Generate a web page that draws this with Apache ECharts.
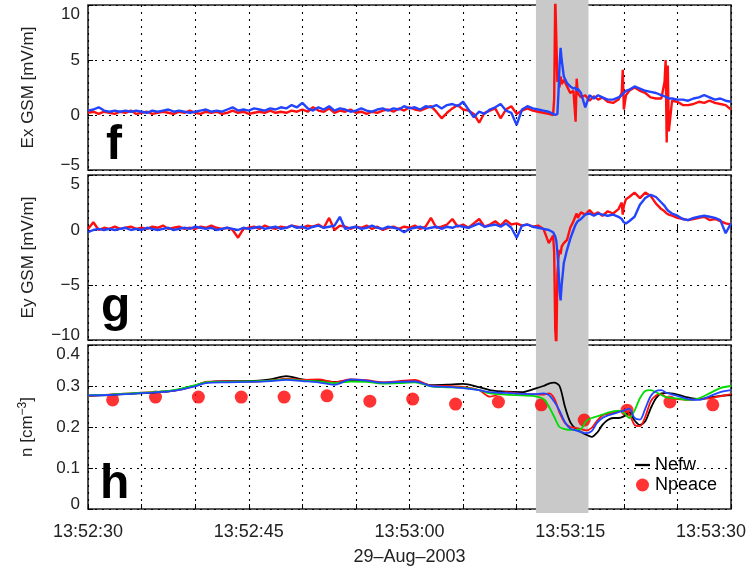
<!DOCTYPE html>
<html>
<head>
<meta charset="utf-8">
<script src="https://cdn.jsdelivr.net/npm/echarts@6/dist/echarts.min.js"></script>
<style>html,body{margin:0;padding:0;background:#fff;}#c{width:751px;height:571px;}</style>
</head>
<body>
<div id="c"></div>
<script>
// time in seconds after 13:52:30 (29-Aug-2003)
const tE = [0,0.5,1,1.5,2,2.5,3,3.5,4,4.5,5,5.5,6,6.5,7,7.5,8,8.5,9,9.5,10,10.5,11,11.5,12,12.5,13,13.5,14,14.5,15,15.5,16,16.5,17,17.5,18,18.5,19,19.5,20,20.5,21,21.5,22,22.5,23,23.5,24,24.5,25,25.5,26,26.5,27,27.5,28,28.5,29,29.5,30,30.5,31,31.5,32,32.5,33,33.5,34,34.5,35,35.5,36,36.5,37,37.5,38,38.5,39,39.5,40,40.5,41,41.5,42,
  42.5,43,43.4,43.5,43.6,43.7,43.8,43.9,44,44.1,44.2,44.4,44.7,45,45.3,45.5,45.6,45.7,46,46.4,46.8,47.2,47.6,48,48.5,49,49.5,49.8,49.9,50,50.2,50.5,51,51.5,52,52.5,53,53.5,53.8,53.9,54,54.1,54.2,54.5,55,55.5,56,56.5,57,57.5,58,58.5,59,59.5,60];

const exRed = [0.2,0.3,0.1,0.3,0.2,0.1,0.3,0.2,0.4,0.1, 0.2,0.3,0.1,0.2,0.3,0.2,0.1,0.3,0.2,0.4, 0.2,0.1,0.3,0.2,0.3,0.1,0.2,0.4,0.2,0.3, 0.1,0.2,0.3,0.2,0.4,0.2,0.3,0.2,0.4,0.3, 0.5,0.3,0.7,0.4,0.3,0.6,0.2,0.4,0.3,0.5, 0.2,0.3,0.1,0.3,0.2,0.4,0.5,0.3,0.6,0.4, 0.7,0.5,0.4,0.6,0.8,0.3,-0.3,0.2,0.6,0.9, 0.5,0.4,0.1,-0.7,0.2,0.4,0.6,-0.3,0.5,0.8, 0.1,0.4,0.6,0.4,0.3,
  0.2,0.1,0.0,1.5,10.8,10.8,3.0,4.0,2.5,3.5, 2.8,3.2,2.6,2.0,2.2,-0.6,3.3,2.0,1.6,1.8, 1.3,1.7,1.4,1.6,1.2,1.1,1.4,2.0,4.1,0.5, 1.8,2.2,2.5,2.2,2.0,1.6,1.5,1.5,3.0,5.0, -2.5,4.5,-1.5,1.3,1.2,0.9,0.9,1.0,1.2,1.1, 1.3,1.1,1.0,0.9,0.5];
const exBlue = [0.4,0.5,0.7,0.4,0.3,0.4,0.3,0.4,0.3,0.4, 0.3,0.2,0.4,0.3,0.4,0.5,0.3,0.4,0.3,0.2, 0.3,0.4,0.5,0.3,0.4,0.3,0.5,0.7,0.4,0.5, 0.4,0.6,0.5,0.4,0.6,0.5,0.7,0.6,0.9,0.7, 1.1,0.6,0.4,0.7,0.5,0.8,0.4,0.6,0.5,0.3, 0.4,0.6,0.4,0.3,0.5,0.6,0.4,0.6,0.5,0.8, 0.6,0.7,0.5,0.8,0.7,0.9,0.6,0.9,1.0,0.8, 1.2,0.5,-0.2,0.3,0.1,0.5,0.7,1.0,0.4,0.2, -0.9,0.5,0.8,0.6,0.5,
  0.4,0.3,0.1,0.0,0.0,0.0,0.1,2.0,4.5,6.1, 5.0,3.5,2.9,2.6,2.4,2.5,2.2,2.4,2.0,0.7, 1.8,1.5,1.8,1.6,1.4,1.4,1.6,1.8,1.9,2.0, 2.2,2.3,2.6,2.4,2.2,2.1,2.0,1.8,1.7,1.7, 1.6,1.6,1.5,1.5,1.4,1.4,1.3,1.5,1.6,1.8, 1.6,1.4,1.5,1.3,1.2];
const eyRed = [0.1,0.7,0.0,0.2,0.1,0.3,0.1,0.2,0.3,0.1, 0.2,0.1,0.3,0.2,0.4,0.1,0.2,0.3,0.1,0.2, 0.1,0.3,0.2,0.4,0.2,0.1,0.2,0.0,-0.7,0.1, 0.2,0.3,0.1,0.4,0.2,0.1,0.3,0.2,0.4,0.3, 0.2,0.4,0.3,0.5,0.2,1.1,0.0,0.4,0.3,0.1, 0.3,0.2,0.4,0.1,0.3,0.0,0.2,0.3,0.1,0.3, 0.2,0.4,0.1,0.3,1.1,0.2,0.3,0.5,1.0,0.3, 0.5,0.2,0.6,1.0,0.3,0.5,0.8,0.4,0.9,0.5, 0.6,0.4,0.5,0.3,0.4,
  0.1,-1.2,-0.5,-2.0,-9.0,-10.8,-4.0,-2.5,-1.8,-2.2, -1.5,-1.2,-0.9,0.2,0.8,1.3,1.5,1.1,1.6,1.4, 1.8,1.4,1.6,1.3,1.7,1.5,1.9,2.5,1.4,2.2, 2.8,3.0,3.4,2.9,3.4,3.1,2.4,1.9,1.7,1.6, 1.5,1.5,1.4,1.3,1.1,1.0,0.9,1.0,1.1,1.2, 0.9,1.0,0.8,0.6,0.5];
const eyBlue = [-0.2,0.0,0.1,0.0,0.1,0.0,0.1,0.2,0.0,0.1, 0.0,0.2,0.1,0.0,0.1,0.2,0.0,0.1,0.2,0.1, 0.3,0.2,0.1,0.2,0.0,0.1,0.2,0.1,0.0,0.2, 0.1,0.2,0.3,0.1,0.2,0.3,0.1,0.2,0.4,0.2, 0.3,0.1,0.3,0.4,0.2,0.3,0.4,1.2,0.1,0.2, 0.3,0.1,0.2,0.4,0.2,0.1,0.3,0.2,0.1,-0.2, 0.1,0.2,0.3,0.1,0.2,0.3,0.1,0.3,0.2,0.4, 0.3,0.2,0.4,0.6,0.3,0.4,0.5,0.3,0.6,0.2, -0.7,0.4,0.5,0.3,0.2,
  0.1,0.0,-0.2,-0.4,-0.6,-1.0,-2.0,-3.5,-5.5,-6.4, -5.0,-3.0,-1.8,-0.8,0.0,0.5,0.6,0.8,1.0,1.4, 1.5,1.3,1.5,1.4,1.3,1.4,1.2,1.0,0.9,0.7, 0.6,0.8,1.2,2.3,2.9,3.2,3.0,2.5,2.2,2.1, 1.9,1.8,1.7,1.5,1.3,1.0,0.9,1.1,1.2,1.3, 1.2,1.1,0.9,-0.3,0.6];

const tN = [0,2,4,6,8,10,11,13,15,17,18.5,20,21.5,23,24.5,26,27.5,29,30.5,32,33.5,35,36.5,37.5,39,40.5,41.5,42.5,
  43,43.5,44,44.5,45,45.5,46,46.5,47,47.5,48,48.5,49,49.5,50,50.5,51,51.5,52,52.5,53,53.5,54,55,56,57,58,59,60];
const nBlack = [0.276,0.278,0.281,0.284,0.289,0.301,0.309,0.312,0.312,0.316,0.324,0.316,0.313,0.310,0.313,0.312,0.308,0.309,0.311,0.302,0.303,0.305,0.297,0.290,0.286,0.285,0.292,0.300,
  0.306,0.308,0.300,0.250,0.212,0.196,0.188,0.181,0.176,0.186,0.205,0.217,0.222,0.222,0.226,0.235,0.216,0.205,0.214,0.245,0.270,0.282,0.283,0.279,0.272,0.268,0.272,0.276,0.278];
const nRed = [0.276,0.279,0.282,0.285,0.288,0.300,0.310,0.311,0.310,0.313,0.318,0.315,0.316,0.309,0.316,0.314,0.309,0.312,0.315,0.301,0.300,0.298,0.290,0.274,0.285,0.281,0.280,0.279,
  0.282,0.270,0.235,0.210,0.200,0.198,0.195,0.192,0.198,0.215,0.228,0.232,0.235,0.238,0.240,0.232,0.205,0.202,0.225,0.262,0.277,0.280,0.272,0.268,0.266,0.268,0.270,0.275,0.280];
const nGreen = [0.277,0.279,0.282,0.285,0.290,0.302,0.309,0.310,0.311,0.313,0.316,0.313,0.311,0.307,0.311,0.310,0.306,0.307,0.309,0.299,0.297,0.296,0.290,0.282,0.279,0.277,0.276,0.268,
  0.250,0.225,0.200,0.195,0.193,0.193,0.195,0.215,0.222,0.226,0.230,0.235,0.238,0.240,0.235,0.222,0.240,0.270,0.288,0.290,0.285,0.278,0.272,0.270,0.266,0.270,0.282,0.295,0.300];
const nBlue = [0.277,0.278,0.281,0.284,0.288,0.299,0.307,0.309,0.310,0.312,0.315,0.312,0.309,0.303,0.316,0.313,0.308,0.310,0.311,0.300,0.298,0.295,0.290,0.285,0.283,0.281,0.280,0.282,
  0.278,0.262,0.240,0.212,0.196,0.192,0.188,0.185,0.190,0.210,0.222,0.228,0.232,0.236,0.240,0.245,0.222,0.218,0.245,0.275,0.288,0.290,0.283,0.276,0.268,0.266,0.275,0.285,0.290];

const tPeace = [2.3,6.3,10.3,14.3,18.3,22.3,26.3,30.3,34.3,38.3,42.3,46.3,50.3,54.3,58.3];
const nPeace = [0.266,0.273,0.273,0.273,0.273,0.276,0.263,0.268,0.256,0.261,0.254,0.217,0.241,0.261,0.254];

const xTickSec = [0,15,30,45,60];
const xTickLabels = ['13:52:30','13:52:45','13:53:00','13:53:15','13:53:30'];
const shadeRange = [41.8, 46.7];

const FONT = 'Liberation Sans, Arial, Helvetica, sans-serif';
const pair = (t, v) => t.map((x, i) => [x, v[i]]);

const chart = echarts.init(document.getElementById('c'), null, {renderer: 'canvas'});

const gridCommon = {left: 88, right: 20, show: true, borderColor: '#222', borderWidth: 1.6, backgroundColor: 'transparent'};
const split = {show: true, lineStyle: {color: '#000', type: [2, 5], width: 1.1}};
const tick = {show: true, inside: true, length: 5, lineStyle: {color: '#000', width: 1}};

function xAx(i, labels) {
  return {
    type: 'value', gridIndex: i, min: 0, max: 60, interval: 5,
    axisLine: {show: false}, axisTick: i === 3 ? {show: false} : tick,
    splitLine: i === 3 ? {show: false} : split,
    show: i !== 3,
    axisLabel: labels ? {
      show: true, margin: 14, fontSize: 18, color: '#222', fontFamily: FONT, hideOverlap: false,
      formatter: function (v) {
        const k = xTickSec.indexOf(Math.round(v));
        if (k < 0) return '';
        if (k === xTickSec.length - 1) return '{last|' + xTickLabels[k] + '}';
        return xTickLabels[k];
      },
      rich: {last: {fontSize: 18, color: '#222', fontFamily: FONT, padding: [0, 40, 0, 0]}}
    } : {show: false},
    name: labels ? '29–Aug–2003' : '', nameLocation: 'middle', nameGap: 39,
    nameTextStyle: {fontSize: 18, color: '#222', fontFamily: FONT}
  };
}
function yAx(i, min, max, interval, name, dec, nameRich) {
  const lab = {fontSize: 17, color: '#222', fontFamily: FONT};
  return {
    type: 'value', gridIndex: i, min: min, max: max, interval: interval,
    axisLine: {show: false}, axisTick: tick, splitLine: split,
    axisLabel: {
      margin: 8, fontSize: 17, color: '#222', fontFamily: FONT,
      formatter: function (v) {
        let s = (Math.abs(v) < 1e-9) ? '0' : (dec ? v.toFixed(dec) : String(Math.round(v)));
        s = s.replace('-', '−');
        if (Math.abs(v - max) < 1e-9) return '{top|' + s + '}';
        if (Math.abs(v - min) < 1e-9) return '{bot|' + s + '}';
        return s;
      },
      rich: {top: Object.assign({padding: [19, 0, 0, 0]}, lab), bot: Object.assign({padding: [0, 0, 10, 0]}, lab)}
    },
    name: name, nameLocation: 'middle', nameGap: 51, nameRotate: 90,
    nameTextStyle: {fontSize: 17, color: '#222', fontFamily: FONT, rich: nameRich || {}}
  };
}

const lineS = (name, xi, data, color, w, z, smooth) => ({
  name: name, type: 'line', xAxisIndex: xi, yAxisIndex: xi, data: data, symbol: 'none',
  smooth: smooth || false, lineStyle: {color: color, width: w}, itemStyle: {color: color}, z: z, silent: true
});

const option = {
  animation: false,
  backgroundColor: '#fff',
  grid: [
    Object.assign({top: 5, height: 165}, gridCommon),
    Object.assign({top: 175, height: 165}, gridCommon),
    Object.assign({top: 345, height: 164}, gridCommon),
    {left: 88, right: 20, top: 0, height: 513, show: false}
  ],
  xAxis: [xAx(0, false), xAx(1, false), xAx(2, true), xAx(3, false)],
  yAxis: [
    yAx(0, -5, 10, 5, 'Ex GSM [mV/m]', 0),
    yAx(1, -10, 5, 5, 'Ey GSM [mV/m]', 0),
    yAx(2, 0, 0.4, 0.1, 'n [cm{sup|−3}]', 1, {sup: {fontSize: 12, color: '#222', fontFamily: FONT, verticalAlign: 'top', padding: [0, 0, 8, 0]}}),
    {type: 'value', gridIndex: 3, min: 0, max: 1, show: false}
  ],
  legend: {
    data: [{name: 'Nefw', icon: 'path://M0,0 L20,0 L20,3 L0,3 Z'}, {name: 'Npeace', icon: 'circle'}],
    orient: 'vertical', left: 635, top: 456, itemWidth: 15, itemHeight: 13, itemGap: 2, itemTextGap: 5,
    padding: 0, textStyle: {fontSize: 18, color: '#000', fontFamily: FONT}, selectedMode: false
  },
  series: [
    {
      type: 'line', xAxisIndex: 3, yAxisIndex: 3, data: [[0, 0]], symbol: 'none', lineStyle: {opacity: 0},
      silent: true, z: -1,
      markArea: {silent: true, itemStyle: {color: '#c9c9c9'}, data: [[{xAxis: shadeRange[0]}, {xAxis: shadeRange[1]}]]}
    },
    lineS('ExRed', 0, pair(tE, exRed), '#ff1010', 2.4, 3),
    lineS('ExBlue', 0, pair(tE, exBlue), '#2244ff', 2.4, 4),
    lineS('EyRed', 1, pair(tE, eyRed), '#ff1010', 2.4, 3),
    lineS('EyBlue', 1, pair(tE, eyBlue), '#2244ff', 2.4, 4),
    {
      name: 'Npeace', type: 'scatter', xAxisIndex: 2, yAxisIndex: 2, data: pair(tPeace, nPeace),
      symbol: 'circle', symbolSize: 13, itemStyle: {color: '#ff0000'}, z: 2, silent: true
    },
    lineS('Nefw', 2, pair(tN, nBlack), '#000000', 1.8, 3, 0.3),
    lineS('NRed', 2, pair(tN, nRed), '#ff1010', 1.8, 4, 0.3),
    lineS('NGreen', 2, pair(tN, nGreen), '#00dd00', 1.8, 5, 0.3),
    lineS('NBlue', 2, pair(tN, nBlue), '#2244ff', 1.8, 6, 0.3)
  ],
  graphic: [
    {type: 'text', x: 106, y: 146, z: 10, style: {text: 'f', font: 'bold 48px ' + FONT, fill: '#000', verticalAlign: 'middle', align: 'left'}},
    {type: 'text', x: 101, y: 308, z: 10, style: {text: 'g', font: 'bold 48px ' + FONT, fill: '#000', verticalAlign: 'middle', align: 'left'}},
    {type: 'text', x: 100, y: 485, z: 10, style: {text: 'h', font: 'bold 48px ' + FONT, fill: '#000', verticalAlign: 'middle', align: 'left'}}
  ]
};
chart.setOption(option);
</script>
</body>
</html>
